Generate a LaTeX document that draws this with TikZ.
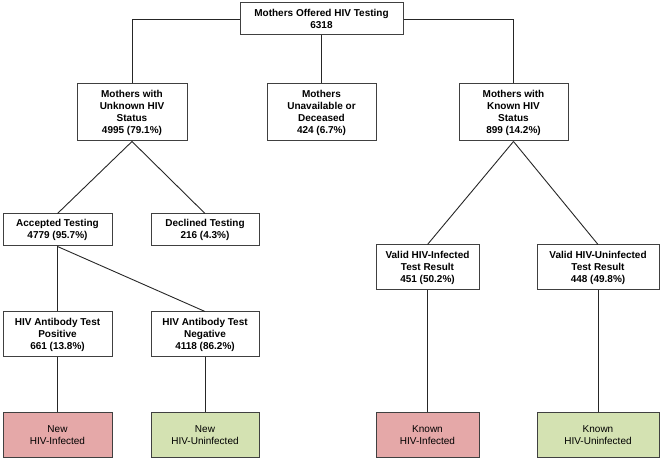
\documentclass[tikz,border=0pt]{standalone}
\usepackage{fontspec}
\setmainfont{Liberation Sans}
\definecolor{redfill}{RGB}{229,168,168}
\definecolor{greenfill}{RGB}{212,226,178}
\begin{document}
\begin{tikzpicture}[x=1pt,y=-1pt,
  box/.style={draw=black!75,line width=1pt,fill=white,inner sep=0pt,align=center,
    font=\fontsize{10}{12}\selectfont\bfseries},
  endbox/.style={box,font=\fontsize{10}{12}\selectfont},
  conn/.style={draw=black!85,line width=0.9pt}]
\useasboundingbox (0,0) rectangle (662,462);
\node[box,minimum width=163pt,minimum height=32pt] (top) at (321.5,19) {Mothers Offered HIV Testing\\6318};
\node[box,minimum width=110pt,minimum height=57pt] (unk) at (132,112.5) {Mothers with\\Unknown HIV\\Status\\4995 (79.1\%)};
\node[box,minimum width=109pt,minimum height=57pt] (una) at (321.5,112.5) {Mothers\\Unavailable or\\Deceased\\424 (6.7\%)};
\node[box,minimum width=109pt,minimum height=57pt] (kno) at (513.5,112.5) {Mothers with\\Known HIV\\Status\\899 (14.2\%)};
\node[box,minimum width=109pt,minimum height=32pt] (acc) at (57.5,230) {Accepted Testing\\4779 (95.7\%)};
\node[box,minimum width=108pt,minimum height=32pt] (dec) at (205,230) {Declined Testing\\216 (4.3\%)};
\node[box,minimum width=103pt,minimum height=45pt] (vinf) at (427.5,267.5) {Valid HIV-Infected\\Test Result\\451 (50.2\%)};
\node[box,minimum width=122pt,minimum height=45pt] (vun) at (598,267.5) {Valid HIV-Uninfected\\Test Result\\448 (49.8\%)};
\node[box,minimum width=109pt,minimum height=45pt] (pos) at (57.5,334.5) {HIV Antibody Test\\Positive\\661 (13.8\%)};
\node[box,minimum width=108pt,minimum height=45pt] (neg) at (205,334.5) {HIV Antibody Test\\Negative\\4118 (86.2\%)};
\node[endbox,fill=redfill,minimum width=109pt,minimum height=45pt] (ninf) at (57.5,435.5) {New\\HIV-Infected};
\node[endbox,fill=greenfill,minimum width=108pt,minimum height=45pt] (nun) at (205,435.5) {New\\HIV-Uninfected};
\node[endbox,fill=redfill,minimum width=103pt,minimum height=45pt] (kinf) at (427.5,435.5) {Known\\HIV-Infected};
\node[endbox,fill=greenfill,minimum width=122pt,minimum height=45pt] (kun) at (598,435.5) {Known\\HIV-Uninfected};
\begin{scope}[on background layer/.style={}]
\draw[conn] (top.west) -| (unk.north);
\draw[conn] (top.east) -| (kno.north);
\draw[conn] (top.south) -- (una.north);
\draw[conn] (unk.south) -- (acc.north);
\draw[conn] (unk.south) -- (dec.north);
\draw[conn] (kno.south) -- (vinf.north);
\draw[conn] (kno.south) -- (vun.north);
\draw[conn] (acc.south) -- (pos.north);
\draw[conn] (acc.south) -- (neg.north);
\draw[conn] (pos.south) -- (ninf.north);
\draw[conn] (neg.south) -- (nun.north);
\draw[conn] (vinf.south) -- (kinf.north);
\draw[conn] (vun.south) -- (kun.north);
\end{scope}
\end{tikzpicture}
\end{document}
